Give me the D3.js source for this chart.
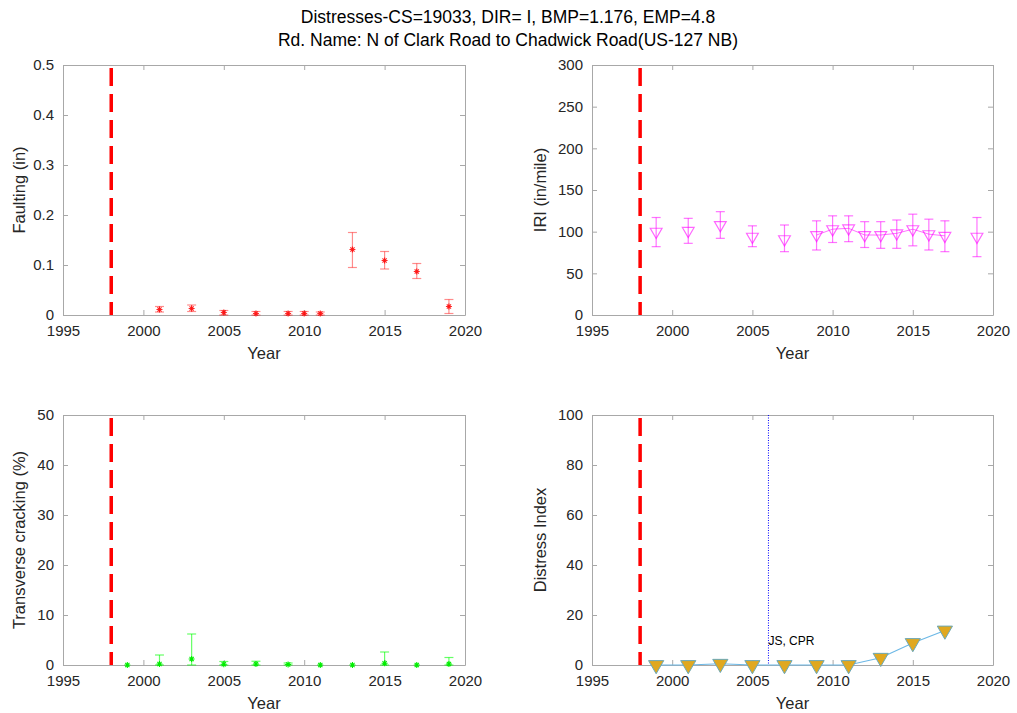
<!DOCTYPE html>
<html>
<head>
<meta charset="utf-8">
<script src="https://cdn.jsdelivr.net/npm/d3@7"></script>
<style>
  html, body { margin: 0; padding: 0; background: #fff; }
  svg { display: block; font-family: "Liberation Sans", Arial, Helvetica, sans-serif; }
</style>
</head>
<body>
<svg id="chart" width="1017" height="713"></svg>
<script>
// ---------- DATA ----------
const titleLines = ["Distresses-CS=19033, DIR= I, BMP=1.176, EMP=4.8",
                    "Rd. Name: N of Clark Road to Chadwick Road(US-127 NB)"];
const xTicks = [1995, 2000, 2005, 2010, 2015, 2020];
const treatmentYear = 1998;

const faultYears = [2001, 2003, 2005, 2007, 2009, 2010, 2011, 2013, 2015, 2017, 2019];
const faultMean  = [0.011, 0.013, 0.005, 0.003, 0.003, 0.003, 0.003, 0.131, 0.109, 0.087, 0.017];
const faultLow   = [0.006, 0.007, 0.000, 0.000, 0.000, 0.000, 0.000, 0.095, 0.092, 0.073, 0.003];
const faultHigh  = [0.017, 0.020, 0.009, 0.007, 0.007, 0.007, 0.006, 0.165, 0.127, 0.103, 0.031];
const faultTicks = [0, 0.1, 0.2, 0.3, 0.4, 0.5];

const iriYears = [1999, 2001, 2003, 2005, 2007, 2009, 2010, 2011, 2012, 2013, 2014, 2015, 2016, 2017, 2019];
const iriMean  = [100, 101, 108, 94, 91, 96, 103, 104, 96, 96, 98, 103, 97, 95, 94];
const iriLow   = [82, 86, 92, 82, 76, 78, 87, 88, 81, 80, 80, 83, 78, 76, 70];
const iriHigh  = [117, 116, 124, 107, 108, 113, 119, 119, 112, 112, 114, 121, 115, 113, 117];
const iriTicks = [0, 50, 100, 150, 200, 250, 300];

const transYears = [1999, 2001, 2003, 2005, 2007, 2009, 2011, 2013, 2015, 2017, 2019];
const transMean  = [0, 0.2, 1.2, 0.15, 0.2, 0.1, 0, 0, 0.35, 0, 0.2];
const transLow   = [0, 0, 0, 0, 0, 0, 0, 0, 0, 0, 0];
const transHigh  = [0, 2.0, 6.2, 0.7, 0.75, 0.4, 0, 0, 2.6, 0, 1.5];
const transTicks = [0, 10, 20, 30, 40, 50];

const diYears = [1999, 2001, 2003, 2005, 2007, 2009, 2011, 2013, 2015, 2017];
const diValues = [0, 0, 0.5, 0, 0, 0, 0, 2.9, 8.8, 13.8];
const diTicks = [0, 20, 40, 60, 80, 100];
const eventYear = 2006;
const eventLabel = "JS, CPR";

// ---------- LAYOUT ----------
const svg = d3.select("#chart");
const boxes = {
  tl: {x0: 63, x1: 465, y0: 65, y1: 315},
  tr: {x0: 592, x1: 993, y0: 65, y1: 315},
  bl: {x0: 63, x1: 465, y0: 415, y1: 665},
  br: {x0: 592, x1: 993, y0: 415, y1: 665}
};
const axisGray = "#a8a8a8";
const textCol = "#262626";

svg.append("g").selectAll("text").data(titleLines).join("text")
  .attr("x", 508).attr("y", (d, i) => 23 + i * 23)
  .attr("text-anchor", "middle").attr("font-size", 17.5).attr("fill", "#000")
  .text(d => d);

function makePanel(b, yDomain, yTicks, yLabel, yFmt) {
  const g = svg.append("g");
  const x = d3.scaleLinear().domain([1995, 2020]).range([b.x0, b.x1]);
  const y = d3.scaleLinear().domain(yDomain).range([b.y1, b.y0]);
  const tl = 5;
  const bottom = g.append("g").attr("transform", `translate(0,${b.y1})`)
    .call(d3.axisBottom(x).tickValues(xTicks).tickFormat(d3.format("d")).tickSizeInner(-tl).tickSizeOuter(0).tickPadding(tl + 5));
  const top = g.append("g").attr("transform", `translate(0,${b.y0})`)
    .call(d3.axisTop(x).tickValues(xTicks).tickFormat("").tickSizeInner(-tl).tickSizeOuter(0));
  const left = g.append("g").attr("transform", `translate(${b.x0},0)`)
    .call(d3.axisLeft(y).tickValues(yTicks).tickFormat(yFmt).tickSizeInner(-tl).tickSizeOuter(0).tickPadding(tl + 4));
  const right = g.append("g").attr("transform", `translate(${b.x1},0)`)
    .call(d3.axisRight(y).tickValues(yTicks).tickFormat("").tickSizeInner(-tl).tickSizeOuter(0));
  [bottom, top, left, right].forEach(a => {
    a.select(".domain").attr("stroke", axisGray);
    a.selectAll(".tick line").attr("stroke", axisGray);
    a.selectAll(".tick text").attr("fill", textCol).attr("font-size", 15)
      .attr("font-family", "Liberation Sans, Arial, sans-serif");
  });
  g.append("text").attr("x", (b.x0 + b.x1) / 2).attr("y", b.y1 + 44)
    .attr("text-anchor", "middle").attr("font-size", 16.5).attr("fill", textCol).text("Year");
  g.append("text").attr("transform", `translate(${yLabel.off},${(b.y0 + b.y1) / 2}) rotate(-90)`)
    .attr("text-anchor", "middle").attr("font-size", 16.5).attr("fill", textCol).text(yLabel.text);
  g.append("line").attr("x1", x(treatmentYear)).attr("x2", x(treatmentYear))
    .attr("y1", b.y0 + 3).attr("y2", b.y1)
    .attr("stroke", "#ff0000").attr("stroke-width", 3.5).attr("stroke-dasharray", "18,8");
  return {g, x, y};
}

function asteriskPath(cx, cy, r) {
  const d = r * 0.7071;
  return `M${cx - r},${cy}L${cx + r},${cy}M${cx},${cy - r}L${cx},${cy + r}` +
         `M${cx - d},${cy - d}L${cx + d},${cy + d}M${cx - d},${cy + d}L${cx + d},${cy - d}`;
}

function errorBars(p, years, lo, hi, color, opacity) {
  const cap = 4.5;
  const eb = p.g.append("g").attr("stroke", color).attr("stroke-opacity", opacity).attr("stroke-width", 1.2).attr("fill", "none");
  years.forEach((yr, i) => {
    if (hi[i] === lo[i]) return;
    const cx = p.x(yr);
    eb.append("line").attr("x1", cx).attr("x2", cx).attr("y1", p.y(lo[i])).attr("y2", p.y(hi[i]));
    eb.append("line").attr("x1", cx - cap).attr("x2", cx + cap).attr("y1", p.y(lo[i])).attr("y2", p.y(lo[i]));
    eb.append("line").attr("x1", cx - cap).attr("x2", cx + cap).attr("y1", p.y(hi[i])).attr("y2", p.y(hi[i]));
  });
}

// ---------- Faulting ----------
const p1 = makePanel(boxes.tl, [0, 0.5], faultTicks, {text: "Faulting (in)", off: 25}, d => d === 0 ? "0" : d3.format(".1f")(d));
errorBars(p1, faultYears, faultLow, faultHigh, "#ff0000", 0.45);
p1.g.append("g").selectAll("path").data(faultYears).join("path")
  .attr("d", (d, i) => asteriskPath(p1.x(d), p1.y(faultMean[i]), 3))
  .attr("stroke", "#ff0000").attr("stroke-opacity", 0.85).attr("stroke-width", 1.1).attr("fill", "none");

// ---------- IRI ----------
const p2 = makePanel(boxes.tr, [0, 300], iriTicks, {text: "IRI (in/mile)", off: 546}, d3.format("d"));
errorBars(p2, iriYears, iriLow, iriHigh, "#ff00ff", 0.55);
const iriPts = iriYears.map((d, i) => ({yr: d, v: iriMean[i]}));
const iriLine = d3.line().x(d => p2.x(d.yr)).y(d => p2.y(d.v));
for (let i = 0; i < iriPts.length - 1; i++) {
  if (iriPts[i + 1].yr - iriPts[i].yr === 1) {
    p2.g.append("path").attr("d", iriLine([iriPts[i], iriPts[i + 1]]))
      .attr("stroke", "#ff00ff").attr("stroke-opacity", 0.55).attr("stroke-width", 1).attr("fill", "none");
  }
}
const triDown = d3.symbol().type(d3.symbolTriangle).size(60);
p2.g.append("g").selectAll("path").data(iriPts).join("path")
  .attr("d", triDown)
  .attr("transform", d => `translate(${p2.x(d.yr)},${p2.y(d.v)}) rotate(180)`)
  .attr("stroke", "#ff00ff").attr("stroke-opacity", 0.6).attr("stroke-width", 1.2).attr("fill", "none");

// ---------- Transverse ----------
const p3 = makePanel(boxes.bl, [0, 50], transTicks, {text: "Transverse cracking (%)", off: 25}, d3.format("d"));
errorBars(p3, transYears, transLow, transHigh, "#00ff00", 0.6);
p3.g.append("g").selectAll("path").data(transYears).join("path")
  .attr("d", (d, i) => asteriskPath(p3.x(d), p3.y(transMean[i]), 3))
  .attr("stroke", "#00ee00").attr("stroke-width", 1.1).attr("fill", "none");

// ---------- Distress Index ----------
const p4 = makePanel(boxes.br, [0, 100], diTicks, {text: "Distress Index", off: 546}, d3.format("d"));
p4.g.append("line").attr("x1", p4.x(eventYear)).attr("x2", p4.x(eventYear))
  .attr("y1", boxes.br.y0).attr("y2", boxes.br.y1)
  .attr("stroke", "#0000ff").attr("stroke-width", 1).attr("stroke-dasharray", "1,1.5");
p4.g.append("text").attr("x", p4.x(eventYear)).attr("y", 645)
  .attr("font-size", 12).attr("fill", "#000").text(eventLabel);
const diPts = diYears.map((d, i) => ({yr: d, v: diValues[i]}));
p4.g.append("path").attr("d", d3.line().x(d => p4.x(d.yr)).y(d => p4.y(d.v))(diPts))
  .attr("stroke", "#6cb8e6").attr("stroke-width", 1.2).attr("fill", "none");
const triDI = d3.symbol().type(d3.symbolTriangle).size(100);
p4.g.append("g").selectAll("path").data(diPts).join("path")
  .attr("d", triDI)
  .attr("transform", d => `translate(${p4.x(d.yr)},${p4.y(d.v)}) rotate(180)`)
  .attr("fill", "#e0a820").attr("stroke", "#6aa8b8").attr("stroke-width", 1);
</script>
</body>
</html>
